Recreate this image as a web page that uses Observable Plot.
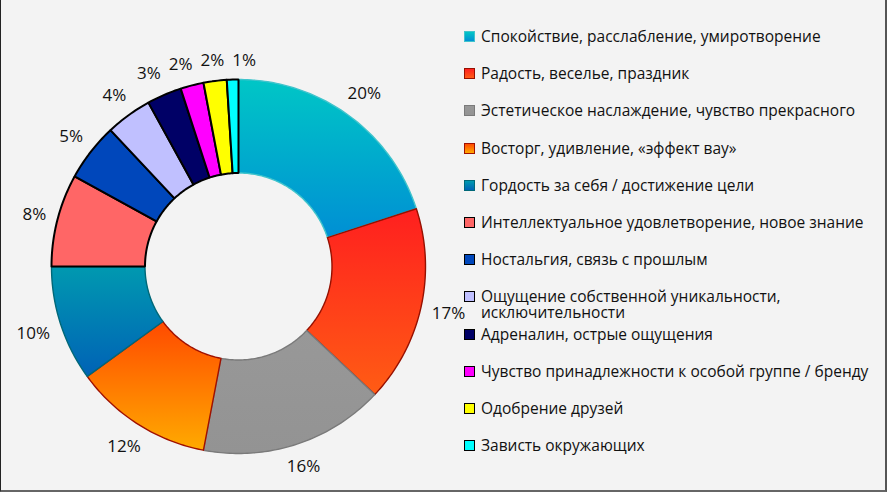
<!DOCTYPE html>
<html>
<head>
<meta charset="utf-8">
<script src="https://cdn.jsdelivr.net/npm/d3@7"></script>
<script src="https://cdn.jsdelivr.net/npm/@observablehq/plot@0.6"></script>
<style>
  html, body { margin: 0; padding: 0; background: #fff; }
  #wrap {
    position: relative; width: 884px; height: 490px; background: #f3f3f3;
    border-left: 1px solid #222; border-right: 2px solid #555; border-bottom: 2px solid #666;
    font-family: "Open Sans", sans-serif; color: #111; overflow: hidden;
  }
  #legend { position: absolute; left: 463px; top: 28px; }
  .item { position: relative; height: 37.2px; }
  .sw { position: absolute; left: 0; top: 3px; width: 9px; height: 9px; border: 1.6px solid #000; }
  .tx { position: absolute; left: 17px; top: 0; width: 400px; font-size: 15.5px; line-height: 16px; }
</style>
</head>
<body>
<div id="wrap"><div id="legend"></div></div>
<script>
// ---- data ----
const categories = [
  "Спокойствие, расслабление, умиротворение",
  "Радость, веселье, праздник",
  "Эстетическое наслаждение, чувство прекрасного",
  "Восторг, удивление, «эффект вау»",
  "Гордость за себя / достижение цели",
  "Интеллектуальное удовлетворение, новое знание",
  "Ностальгия, связь с прошлым",
  "Ощущение собственной уникальности, исключительности",
  "Адреналин, острые ощущения",
  "Чувство принадлежности к особой группе / бренду",
  "Одобрение друзей",
  "Зависть окружающих"
];
const values = [20, 17, 16, 12, 10, 8, 5, 4, 3, 2, 2, 1];
const valueLabels = ["20%", "17%", "16%", "12%", "10%", "8%", "5%", "4%", "3%", "2%", "2%", "1%"];

// ---- styles ----
const gradTop    = ["#00c6c6", "#ff1f1f", "#989898", "#ff4a00", "#0099b0", "#ff6666", "#0047bb", "#c0c0ff", "#000066", "#ff00ff", "#ffff00", "#00ffff"];
const gradBottom = ["#008fd4", "#ff5c14", "#939393", "#ffaa00", "#0062b6", "#ff6666", "#0047bb", "#c0c0ff", "#000066", "#ff00ff", "#ffff00", "#00ffff"];
const strokes    = ["#40c4cc", "#961000", "#7a7a7a", "#a01000", "#006878", "#000", "#000", "#000", "#000", "#000", "#000", "#000"];
const blackEdged = [false, false, false, false, false, true, true, true, true, true, true, true];

const R = 187, cx = 237, cy = 266;   // layout of the donut in pixels
const inner = 0.5;
const labelFont = 17;

const total = d3.sum(values);
const cum = d3.cumsum(values);
const slices = values.map((v, i) => {
  const a0 = (cum[i] - v) / total * 2 * Math.PI;
  const a1 = cum[i] / total * 2 * Math.PI;
  return {i, v, a0, a1, mid: (a0 + a1) / 2};
});

function slicePoints(s) {
  const n = Math.max(3, Math.ceil(s.v * 4));
  const pts = [];
  for (let k = 0; k <= n; k++) pts.push({a: s.a0 + (s.a1 - s.a0) * k / n, r: 1});
  for (let k = n; k >= 0; k--) pts.push({a: s.a0 + (s.a1 - s.a0) * k / n, r: inner});
  pts.push(pts[0]);
  return pts.map(p => ({
    key: s.i,
    x: p.r * Math.sin(p.a),
    y: p.r * Math.cos(p.a),
    fill: `url(#g${s.i})`,
    stroke: strokes[s.i]
  }));
}
const ptsA = slices.filter(s => !blackEdged[s.i]).flatMap(slicePoints);
const ptsB = slices.filter(s => blackEdged[s.i]).flatMap(slicePoints);

// ---- "outside end" label placement, with simple overlap relaxation ----
const ctx = document.createElement("canvas").getContext("2d");
ctx.font = `${labelFont}px "Open Sans"`;
const gap = 10, hh = 9, pad = 8;
const labs = slices.map(s => {
  const hw = ctx.measureText(valueLabels[s.i]).width / 2;
  const sa = Math.sin(s.mid), ca = Math.cos(s.mid);
  const r = R + gap + Math.abs(sa) * hw + Math.abs(ca) * hh;
  return {px: r * sa, py: r * ca, hw, text: valueLabels[s.i]};
});
for (let it = 0; it < 60; it++) {
  for (let k = 0; k < labs.length; k++) {
    const a = labs[k], b = labs[(k + 1) % labs.length];
    const ox = a.hw + b.hw + pad - Math.abs(a.px - b.px);
    const oy = 2 * hh + 2 - Math.abs(a.py - b.py);
    if (ox > 0 && oy > 0) {
      const dir = a.px < b.px ? -1 : 1;
      a.px += dir * ox / 2; b.px -= dir * ox / 2;
    }
  }
}
const labelData = labs.map(l => ({x: l.px / R, y: l.py / R, text: l.text}));

const svg = Plot.plot({
  width: 884,
  height: 490,
  margin: 0,
  style: {background: "transparent", overflow: "visible"},
  x: {domain: [-1, 1], range: [cx - R, cx + R], axis: null},
  y: {domain: [-1, 1], range: [cy + R, cy - R], axis: null},
  color: {type: "identity"},
  marks: [
    Plot.line(ptsA, {x: "x", y: "y", z: "key", fill: "fill", stroke: "stroke", strokeWidth: 1.4, curve: "linear", strokeLinejoin: "round"}),
    Plot.line(ptsB, {x: "x", y: "y", z: "key", fill: "fill", stroke: "stroke", strokeWidth: 2, curve: "linear", strokeLinejoin: "miter"}),
    Plot.text(labelData, {x: "x", y: "y", text: "text", fontSize: labelFont, fill: "#111", fontFamily: "Open Sans"})
  ]
});

const defs = slices.map(s =>
  `<linearGradient id="g${s.i}" x1="0" y1="0" x2="0" y2="1">
     <stop offset="0" stop-color="${gradTop[s.i]}"/>
     <stop offset="1" stop-color="${gradBottom[s.i]}"/>
   </linearGradient>`).join("");
svg.insertAdjacentHTML("afterbegin", `<defs>${defs}</defs>`);
svg.style.position = "absolute";
svg.style.left = "0";
svg.style.top = "0";
document.getElementById("wrap").prepend(svg);

const legend = d3.select("#legend");
const items = legend.selectAll(".item").data(categories).join("div").attr("class", "item");
items.append("div").attr("class", "sw")
  .style("background", (d, i) => `linear-gradient(${gradTop[i]}, ${gradBottom[i]})`)
  .style("border-color", (d, i) => blackEdged[i] ? "#000" : strokes[i]);
items.append("div").attr("class", "tx").text(d => d);
</script>
</body>
</html>
